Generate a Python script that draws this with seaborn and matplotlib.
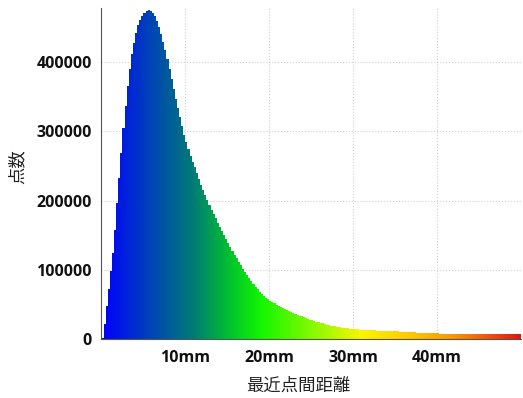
import numpy as np
import pandas as pd
import seaborn as sns
import matplotlib.pyplot as plt
from matplotlib.colors import LinearSegmentedColormap
from matplotlib.ticker import MultipleLocator, FixedLocator, FuncFormatter

# histogram of nearest point distance, 0.25mm bins from 0 to 50mm (8 bins = 2mm per row)
bin_width = 0.25
counts = [
    2000, 22000, 48000, 73000, 98000, 125000, 158000, 196000,
    233000, 269000, 304000, 337000, 366000, 390000, 411000, 428000,
    442000, 453000, 461000, 467000, 471000, 473500, 474500, 474000,
    471000, 466000, 459000, 450000, 440000, 429000, 417000, 404000,
    390000, 376000, 361000, 347000, 333000, 320000, 307000, 295000,
    284000, 274000, 264000, 256000, 248000, 240000, 231000, 223000,
    215000, 208000, 201000, 194000, 187000, 181000, 175000, 168000,
    162000, 156000, 150000, 144000, 138000, 132500, 127000, 121500,
    116500, 111500, 106500, 101500, 97000, 92500, 88000, 83500,
    79500, 75500, 72000, 68500, 65500, 62500, 60000, 57500,
    55500, 53500, 51500, 49800, 48200, 46600, 45000, 43500,
    42000, 40600, 39200, 37800, 36500, 35200, 33900, 32700,
    31500, 30400, 29300, 28200, 27200, 26200, 25200, 24300,
    23400, 22600, 21800, 21000, 20300, 19600, 18900, 18300,
    17700, 17200, 16700, 16200, 15800, 15400, 15000, 14700,
    14400, 14100, 13900, 13600, 13400, 13200, 13000, 12900,
    12700, 12600, 12500, 12400, 12300, 12100, 12000, 11900,
    11800, 11600, 11500, 11400, 11200, 11100, 10900, 10800,
    10600, 10400, 10300, 10100, 9900, 9700, 9500, 9400,
    9200, 9000, 8900, 8700, 8600, 8500, 8300, 8200,
    8100, 8000, 7900, 7800, 7700, 7600, 7500, 7400,
    7400, 7300, 7200, 7100, 7100, 7000, 7000, 6900,
    6900, 6900, 6800, 6800, 6800, 6800, 6700, 6700,
    6700, 6700, 6700, 6700, 6700, 6700, 6700, 6700,
    6700, 6700, 6700, 6700, 6800, 6800, 6900, 6900,
]
x_max = 50
y_max = 478000
x_ticks = [10, 20, 30, 40]
y_ticks = [0, 100000, 200000, 300000, 400000]

centers = np.arange(len(counts)) * bin_width + bin_width / 2
df = pd.DataFrame({'distance': centers, 'count': counts})

# blue -> green -> yellow -> red along the x axis
stops = [
    (0.00, (0, 0, 255)),
    (0.12, (0, 70, 180)),
    (0.22, (0, 125, 115)),
    (0.30, (0, 190, 50)),
    (0.38, (20, 245, 0)),
    (0.50, (130, 250, 0)),
    (0.62, (250, 245, 0)),
    (0.74, (255, 200, 0)),
    (0.84, (250, 150, 0)),
    (0.93, (240, 80, 10)),
    (1.00, (225, 20, 20)),
]
cmap = LinearSegmentedColormap.from_list(
    'dist', [(p, tuple(c / 255 for c in rgb)) for p, rgb in stops])

sns.set_style('white')
plt.rcParams['font.family'] = ['Open Sans', 'Noto Sans CJK JP', 'DejaVu Sans']

fig = plt.figure(figsize=(5.23, 3.98), dpi=100)
ax = fig.add_axes([0.194, 0.148, 0.802, 0.832])

sns.histplot(data=df, x='distance', weights='count', binwidth=bin_width,
             binrange=(0, x_max), element='step', fill=True,
             alpha=1, linewidth=0, ax=ax)

# paint a horizontal colour gradient clipped to the histogram outline
poly = ax.collections[0]
outline = poly.get_paths()[0]
poly.set_facecolor('none')
grad = np.linspace(0, 1, 600).reshape(1, -1)
im = ax.imshow(grad, cmap=cmap, extent=[0, x_max, 0, y_max],
               aspect='auto', origin='lower', interpolation='bilinear',
               zorder=2)
im.set_clip_path(outline, transform=ax.transData)

ax.set_xlim(0, x_max)
ax.set_ylim(0, y_max)

ax.xaxis.set_major_locator(FixedLocator(x_ticks))
ax.xaxis.set_major_formatter(FuncFormatter(lambda v, p: f'{int(v)}mm'))
ax.xaxis.set_minor_locator(MultipleLocator(2))
ax.yaxis.set_major_locator(FixedLocator(y_ticks))
ax.yaxis.set_major_formatter(FuncFormatter(lambda v, p: f'{int(v)}'))
ax.yaxis.set_minor_locator(MultipleLocator(20000))

ax.set_axisbelow(True)
ax.grid(True, which='major', linestyle=':', color='#cfcfcf', linewidth=0.8)

for side in ['top', 'right']:
    ax.spines[side].set_visible(False)
for side in ['left', 'bottom']:
    ax.spines[side].set_color('#555555')
    ax.spines[side].set_linewidth(0.8)
    ax.spines[side].set_zorder(3)

ax.tick_params(which='both', direction='out', color='#666666', width=0.7)
ax.tick_params(which='major', length=4)
ax.tick_params(which='minor', length=2.5)
ax.tick_params(axis='y', which='major', pad=3)
ax.tick_params(axis='x', which='major', pad=4)
for lab in ax.get_xticklabels() + ax.get_yticklabels():
    lab.set_fontweight('bold')
    lab.set_fontsize(11.5)
    lab.set_color('#111111')

ax.set_xlabel('最近点間距離', fontsize=12.5, color='#222222',
              family=['Noto Sans CJK JP', 'DejaVu Sans'])
ax.set_ylabel('点数', fontsize=12.5, color='#222222',
              family=['Noto Sans CJK JP', 'DejaVu Sans'])
ax.xaxis.set_label_coords(0.47, -0.115)
ax.yaxis.set_label_coords(-0.178, 0.52)

fig.savefig('out.png', dpi=100)
